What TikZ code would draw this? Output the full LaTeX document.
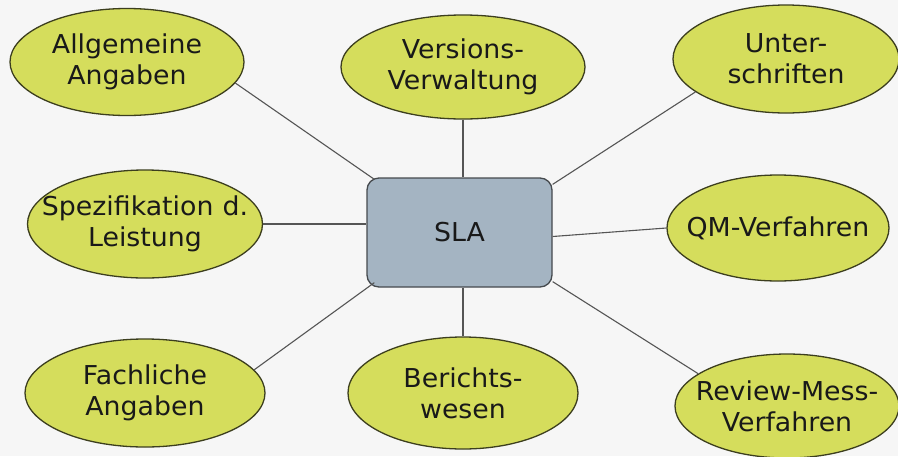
\documentclass[tikz,border=0pt]{standalone}
\usepackage{fontspec}
\setmainfont{DejaVu Sans}[FakeStretch=1.03]
\usetikzlibrary{shapes.geometric,calc}
\definecolor{ellfill}{RGB}{213,221,92}
\definecolor{ellline}{RGB}{60,62,30}
\definecolor{boxfill}{RGB}{164,180,194}
\definecolor{boxline}{RGB}{70,74,78}
\definecolor{conn}{RGB}{85,85,85}
\definecolor{bg}{RGB}{246,246,246}
\definecolor{txt}{RGB}{25,25,25}
\begin{document}
\begin{tikzpicture}[x=1pt,y=-1pt,
  topic/.style={ellipse,draw=ellline,fill=ellfill,line width=1.3pt,inner sep=0pt,
    label={[align=center,text=txt,font=\fontsize{26}{31}\selectfont,inner sep=0pt]center:#1}},
  hub/.style={draw=boxline,fill=boxfill,line width=1.3pt,rounded corners=12pt,text=txt,
    minimum width=185pt,minimum height=109pt,inner sep=0pt,font=\fontsize{26}{31}\selectfont},
  link/.style={draw=conn,line width=1.1pt}]
\useasboundingbox[fill=bg] (0,0) rectangle (898,456);
\node[hub] (sla) at (459.5,232.5) {SLA};
\node[topic={Allgemeine\\Angaben},minimum width=234pt,minimum height=107pt] (allg) at (127,62) {};
\node[topic={Versions-\\Verwaltung},minimum width=244pt,minimum height=104pt] (vers) at (463,67) {};
\node[topic={Unter-\\schriften},minimum width=226pt,minimum height=108pt] (unter) at (786,59) {};
\node[topic={Spezifikation\hspace{0.35em}d.\\Leistung},minimum width=235pt,minimum height=108pt] (spez) at (145,224) {};
\node[topic={QM-Verfahren},minimum width=222pt,minimum height=106pt] (qm) at (778,228) {};
\node[topic={Fachliche\\Angaben},minimum width=240pt,minimum height=108pt] (fach) at (145,393) {};
\node[topic={Berichts-\\wesen},minimum width=230pt,minimum height=112pt] (ber) at (463,393) {};
\node[topic={Review-Mess-\\Verfahren},minimum width=224pt,minimum height=104pt] (rev) at (787,406) {};
\draw[link] (allg.-11) -- ($(sla.north west)+(8,2)$);
\draw[link] (vers.south) -- (vers.south |- sla.north);
\draw[link] (unter.200) -- ($(sla.north east)+(0,7)$);
\draw[link] (spez.east) -- (spez.east -| sla.west);
\draw[link] ($(sla.east)+(0,4)$) -- (qm.west);
\draw[link] (fach.12) -- ($(sla.south west)+(8,-5)$);
\draw[link] (ber.north |- sla.south) -- (ber.north);
\draw[link] ($(sla.south east)+(0,-6)$) -- (rev.160);
\end{tikzpicture}
\end{document}
